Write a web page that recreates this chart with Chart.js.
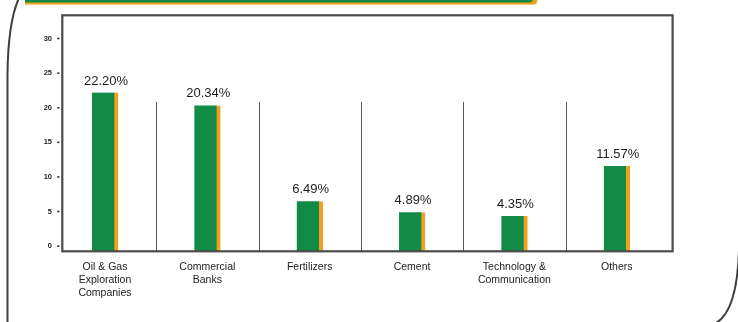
<!DOCTYPE html>
<html>
<head>
<meta charset="utf-8">
<script src="https://cdn.jsdelivr.net/npm/chart.js@4/dist/chart.umd.min.js"></script>
<style>
  html, body { margin: 0; padding: 0; background: #ffffff; }
  #wrap { width: 738px; height: 322px; position: relative; }
</style>
</head>
<body>
<div id="wrap"><canvas id="c" width="738" height="322"></canvas></div>
<script>
// Sector allocation (% of portfolio)
const categories = [
  ["Oil & Gas", "Exploration", "Companies"],
  ["Commercial", "Banks"],
  ["Fertilizers"],
  ["Cement"],
  ["Technology &", "Communication"],
  ["Others"]
];
const shares = [22.20, 20.34, 6.49, 4.89, 4.35, 11.57];
const shareLabels = ["22.20%", "20.34%", "6.49%", "4.89%", "4.35%", "11.57%"];
const yTicks = [0, 5, 10, 15, 20, 25, 30];

const FONT = "'Liberation Sans', Arial, Helvetica, sans-serif";
const GREEN = '#128b46';
const ORANGE = '#f1a11f';
const FRAME = '#4b4b4b';
const Y_MIN = -0.7;
const Y_MAX = 33.4;

// band with a square left end and a rounded right end
function stripe(ctx, x0, x1, y0, y1, r) {
  ctx.beginPath();
  ctx.moveTo(x0, y0);
  ctx.lineTo(x1 - r, y0);
  ctx.quadraticCurveTo(x1, y0, x1, y0 + r);
  ctx.quadraticCurveTo(x1, y1, x1 - r, y1);
  ctx.lineTo(x0, y1);
  ctx.closePath();
  ctx.fill();
}

// Page ornaments: rounded panel edges and the header stripe
const ornaments = {
  id: 'ornaments',
  beforeDraw(chart) {
    const ctx = chart.ctx;
    ctx.save();
    ctx.strokeStyle = '#3f3f3f';
    ctx.lineWidth = 2;
    ctx.beginPath();
    ctx.moveTo(19, -2);
    ctx.quadraticCurveTo(8, 22, 7.5, 75);
    ctx.lineTo(7.5, 324);
    ctx.stroke();
    ctx.beginPath();
    ctx.moveTo(739, 250);
    ctx.quadraticCurveTo(737, 314, 714, 324);
    ctx.stroke();

    // header stripe
    ctx.fillStyle = '#f8dc9c';
    stripe(ctx, 25, 538, -4, 5.2, 4);
    ctx.fillStyle = ORANGE;
    stripe(ctx, 25, 537, -4, 4.3, 4);
    ctx.fillStyle = GREEN;
    stripe(ctx, 25, 533, -4, 2.4, 3);
    ctx.restore();
  }
};

// Separators between sectors, y tick dashes, frame and value labels
const decorations = {
  id: 'decorations',
  beforeDatasetsDraw(chart) {
    const { ctx, chartArea, scales } = chart;
    const x = scales.x, y = scales.y;
    ctx.save();
    ctx.strokeStyle = '#5a5a5a';
    ctx.lineWidth = 1;
    const top = Math.round(y.getPixelForValue(20.8));
    for (let i = 0; i < categories.length - 1; i++) {
      const px = Math.round(x.getPixelForValue(i + 0.5)) + 0.5;
      ctx.beginPath();
      ctx.moveTo(px, top);
      ctx.lineTo(px, chartArea.bottom);
      ctx.stroke();
    }
    ctx.fillStyle = '#333333';
    yTicks.forEach(v => {
      const py = y.getPixelForValue(v);
      ctx.fillRect(chartArea.left - 4.8, py - 0.8, 2.2, 1.6);
    });
    ctx.restore();
  },
  afterDatasetsDraw(chart) {
    const { ctx, chartArea } = chart;
    ctx.save();
    ctx.strokeStyle = FRAME;
    ctx.lineWidth = 2.2;
    ctx.strokeRect(chartArea.left + 0.3, chartArea.top + 0.3,
                   chartArea.right - chartArea.left + 0.3, chartArea.bottom - chartArea.top);

    const meta = chart.getDatasetMeta(0);
    ctx.fillStyle = '#1e1e1e';
    ctx.font = '13px ' + FONT;
    ctx.textAlign = 'center';
    ctx.textBaseline = 'alphabetic';
    meta.data.forEach((bar, i) => {
      ctx.fillText(shareLabels[i], bar.x + 1, bar.y - 8);
    });
    ctx.restore();
  }
};

new Chart(document.getElementById('c'), {
  type: 'bar',
  data: {
    datasets: [{
      data: shares.map((v, i) => ({ x: i, y: v })),
      base: Y_MIN,
      backgroundColor: GREEN,
      borderColor: ORANGE,
      borderWidth: { top: 0, left: 0, bottom: 0, right: 4 },
      borderSkipped: false,
      barThickness: 26
    }]
  },
  options: {
    responsive: false,
    animation: false,
    devicePixelRatio: 1,
    layout: { padding: { top: 15, right: 66, left: 0, bottom: 0 } },
    plugins: { legend: { display: false }, tooltip: { enabled: false } },
    scales: {
      x: {
        type: 'linear',
        min: -0.42,
        max: 5.54,
        offset: false,
        grid: { display: false, drawTicks: false },
        border: { display: false },
        afterBuildTicks: s => { s.ticks = categories.map((_, i) => ({ value: i })); },
        afterFit: s => { s.height = 71; },
        ticks: {
          autoSkip: false,
          maxRotation: 0,
          padding: 10,
          color: '#222222',
          font: { family: FONT, size: 10.5, lineHeight: 1.22 },
          callback: v => categories[v]
        }
      },
      y: {
        min: Y_MIN,
        max: Y_MAX,
        grid: { display: false, drawTicks: false },
        border: { display: false },
        afterBuildTicks: s => { s.ticks = yTicks.map(v => ({ value: v })); },
        afterFit: s => { s.width = 62; },
        ticks: {
          padding: 10,
          color: '#222222',
          font: { family: FONT, size: 7.5, weight: 'bold' }
        }
      }
    }
  },
  plugins: [ornaments, decorations]
});
</script>
</body>
</html>
